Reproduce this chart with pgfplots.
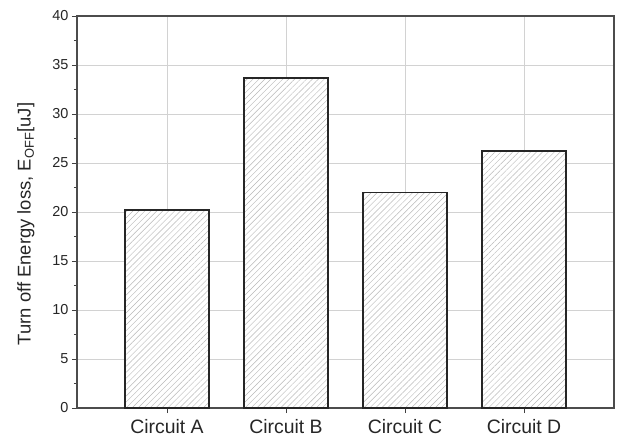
\documentclass[border=0pt]{standalone}
\usepackage{pgfplots}
\pgfplotsset{compat=1.18}
\usepackage{fontspec}
\setmainfont{Liberation Sans}
\usetikzlibrary{patterns.meta}
\begin{document}
\begin{tikzpicture}[x=1bp,y=1bp]
\begin{axis}[
  scale only axis,
  width=537bp, height=392bp,
  xmin=0.244, xmax=4.756,
  ymin=0, ymax=40,
  xtick={1,2,3,4},
  xticklabels={Circuit A,Circuit B,Circuit C,Circuit D},
  ytick={0,5,...,40},
  minor ytick={2.5,7.5,...,37.5},
  tick pos=left,
  tick align=outside,
  major tick length=5bp,
  minor tick length=3bp,
  every tick/.style={black!75, line width=0.8pt},
  grid=major,
  major grid style={gray!35, line width=0.6pt},
  axis line style={black!70, line width=1.2pt},
  ticklabel style={font=\fontsize{14.5}{16}\selectfont, text=black!85},
  xticklabel style={font=\fontsize{19.5}{21}\selectfont, yshift=-3bp},
  /pgf/number format/assume math mode=true,
  ylabel={Turn off Energy loss, E\textsubscript{OFF}[uJ]},
  ylabel style={font=\fontsize{18.5}{20}\selectfont, text=black!85, yshift=11bp, xshift=-12bp},
  ybar, bar width=0.706,
  clip=false,
]
\addplot[draw=black!85, line width=1.6pt, fill=white,
  postaction={pattern={Lines[angle=45, distance=4.2bp, line width=0.45pt]}, pattern color=gray!55}]
  coordinates {(1,20.2) (2,33.7) (3,22.0) (4,26.2)};
\end{axis}
\pgfresetboundingbox
\path (current axis.south west) ++(-77bp,-37bp) rectangle (current axis.north east);
\path (current axis.north east) ++(4bp,16bp) coordinate (ne);
\path (ne) rectangle (current axis.south west);
\end{tikzpicture}
\end{document}
